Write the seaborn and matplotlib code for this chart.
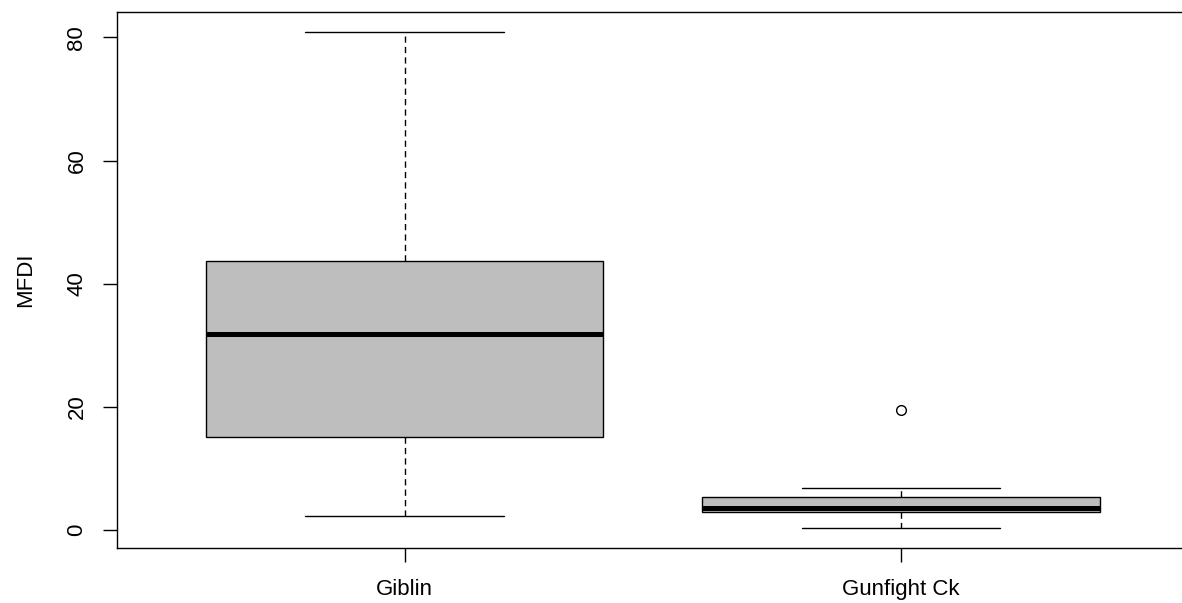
import matplotlib
matplotlib.use("Agg")
import matplotlib.pyplot as plt
import seaborn as sns
import pandas as pd

# MFDI observations per site
sites = ["Giblin", "Gunfight Ck"]
giblin_mfdi = [2.4, 15.2, 31.9, 43.7, 80.9]
gunfight_mfdi = [0.3, 2.8, 3.2, 3.6, 4.0, 6.8, 19.5]
y_ticks = [0, 20, 40, 60, 80]

df = pd.DataFrame({
    "site": [sites[0]] * len(giblin_mfdi) + [sites[1]] * len(gunfight_mfdi),
    "mfdi": giblin_mfdi + gunfight_mfdi,
})

sns.set_style("white")
plt.rcParams["font.family"] = ["Liberation Sans", "DejaVu Sans"]

fig = plt.figure(figsize=(11.82, 6.03), dpi=100)
ax = fig.add_axes([0.0987, 0.0907, 0.9072, 0.8894])

sns.boxplot(
    data=df, x="site", y="mfdi", order=sites, ax=ax,
    color="#BEBEBE", saturation=1, width=0.8,
    linecolor="black", linewidth=1.0,
    whiskerprops=dict(linestyle=(0, (4.5, 3))),
    capprops=dict(linestyle="-"),
    medianprops=dict(linewidth=3.6, color="black"),
    flierprops=dict(marker="o", markersize=7, markerfacecolor="white",
                    markeredgecolor="black", markeredgewidth=1.0),
)

# axis ranges padded 4% beyond the data, as in base-R graphics
vals = df["mfdi"]
pad = 0.04 * (vals.max() - vals.min())
ax.set_ylim(vals.min() - pad, vals.max() + pad)
ax.set_xlim(-0.58, 1.58)

ax.set_yticks(y_ticks)
ax.set_yticklabels([str(t) for t in y_ticks], rotation=90, va="center")
ax.set_xlabel("")
ax.set_ylabel("MFDI", fontsize=16, labelpad=22, color="black")

ax.tick_params(axis="both", direction="out", length=10, width=1,
               color="black", labelsize=16, labelcolor="black",
               left=True, bottom=True)
ax.tick_params(axis="y", pad=11)
ax.tick_params(axis="x", pad=12)

for side in ["left", "top", "bottom"]:
    ax.spines[side].set_visible(True)
    ax.spines[side].set_color("black")
    ax.spines[side].set_linewidth(1.0)
ax.spines["right"].set_visible(False)

ax.grid(False)
fig.savefig("out.png", dpi=100)
